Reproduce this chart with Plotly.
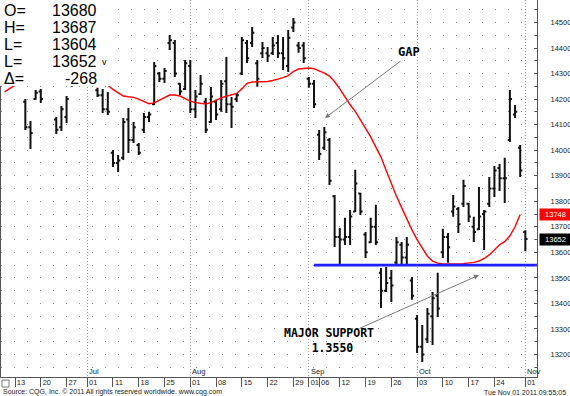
import pandas as pd
import plotly.graph_objects as go

# ---------------- data ----------------
HOLIDAYS = ["2011-07-04", "2011-09-05"]
trade_days = [d.strftime("%Y-%m-%d") for d in pd.bdate_range("2011-06-09", "2011-11-01")
              if d.strftime("%Y-%m-%d") not in HOLIDAYS]

opens = [14400, 14350, 14300, 14400, 14190, 14090, 14200, 14230, 14280, 14360,
         14120, 14090, 14130, 14260, 14330, 14390, 14460, 14450, 14235, 14215,
         14160, 13990, 13950, 13970, 14120, 14040, 14020, 14080, 14130, 14180,
         14300, 14280, 14420, 14420, 14260, 14240, 14330, 14160, 14220, 14190,
         14110, 14190, 14160, 14270, 14180, 14200, 14300, 14420, 14420, 14340,
         14380, 14380, 14380, 14420, 14380, 14330, 14480, 14410, 14410, 14280,
         14260, 14060, 14010, 14040, 13820, 13660, 13650, 13660, 13760, 13830,
         13670, 13640, 13700, 13520, 13450, 13500, 13560, 13630, 13580, 13490,
         13340, 13230, 13260, 13350, 13430, 13600, 13660, 13760, 13770, 13790,
         13790, 13700, 13690, 13750, 13790, 13850, 13930, 13890, 14040, 14140,
         14010, 13680]
highs = [14420, 14360, 14420, 14450, 14200, 14114, 14236, 14240, 14380, 14400,
         14130, 14173, 14212, 14340, 14400, 14470, 14500, 14480, 14244, 14240,
         14228, 14001, 13981, 14126, 14165, 14110, 14028, 14146, 14150, 14345,
         14306, 14322, 14451, 14431, 14263, 14353, 14353, 14236, 14294, 14204,
         14247, 14197, 14275, 14365, 14208, 14224, 14443, 14431, 14482, 14353,
         14424, 14404, 14443, 14451, 14443, 14471, 14518, 14424, 14424, 14287,
         14275, 14079, 14091, 14048, 13825, 13695, 13735, 13766, 13923, 13833,
         13680, 13735, 13786, 13539, 13543, 13531, 13660, 13641, 13660, 13504,
         13355, 13316, 13382, 13445, 13520, 13692, 13676, 13825, 13778, 13884,
         13794, 13739, 13856, 13766, 13895, 13938, 13946, 13970, 14236, 14177,
         14020, 13687]
lows = [14330, 14270, 14290, 14370, 14079, 14005, 14197, 14185, 14270, 14300,
        14063, 14075, 14106, 14248, 14310, 14380, 14410, 14380, 14208, 14146,
        14138, 13934, 13915, 13962, 13989, 14028, 13981, 14067, 14110, 14177,
        14267, 14263, 14392, 14287, 14216, 14236, 14146, 14126, 14216, 14067,
        14107, 14118, 14150, 14146, 14087, 14189, 14294, 14341, 14404, 14248,
        14361, 14345, 14373, 14361, 14314, 14306, 14463, 14381, 14341, 14244,
        14165, 13962, 14001, 13864, 13621, 13554, 13629, 13629, 13758, 13746,
        13578, 13637, 13629, 13382, 13445, 13406, 13551, 13551, 13551, 13414,
        13206, 13171, 13245, 13237, 13347, 13578, 13559, 13739, 13676, 13778,
        13719, 13641, 13688, 13609, 13778, 13817, 13840, 13793, 14032, 14126,
        13895, 13604]
closes = [14350, 14290, 14400, 14410, 14090, 14067, 14225, 14200, 14360, 14320,
          14080, 14160, 14200, 14330, 14390, 14460, 14450, 14400, 14215, 14160,
          14150, 13950, 13960, 14110, 14040, 14090, 13990, 14130, 14140, 14330,
          14280, 14310, 14430, 14300, 14230, 14340, 14160, 14210, 14260, 14080,
          14210, 14140, 14260, 14180, 14170, 14215, 14430, 14360, 14460, 14280,
          14400, 14370, 14410, 14380, 14360, 14440, 14500, 14400, 14360, 14260,
          14180, 13985, 14070, 13880, 13660, 13650, 13660, 13740, 13870, 13760,
          13600, 13700, 13640, 13450, 13480, 13470, 13640, 13580, 13630, 13430,
          13230, 13200, 13360, 13420, 13380, 13660, 13620, 13780, 13710, 13860,
          13740, 13680, 13740, 13760, 13850, 13920, 13890, 13890, 14200, 14150,
          13920, 13652]

moving_avg = [14228, 14242,
              14256, 14268, 14278, 14285, 14290, 14292, 14294, 14295, 14294, 14292,
              14290, 14288, 14286, 14284, 14282, 14278, 14272, 14264, 14254,
              14238, 14224, 14212, 14209, 14207, 14200, 14190, 14182, 14185, 14196,
              14207, 14216, 14216, 14212, 14202, 14192, 14186, 14182, 14181, 14186,
              14196, 14205, 14211, 14216, 14222, 14240, 14262, 14267, 14267, 14267,
              14269, 14273, 14278, 14284, 14292, 14308, 14318, 14321, 14322, 14319,
              14312, 14302, 14290, 14268, 14240, 14208, 14178, 14152, 14120, 14085,
              14052, 14012, 13973, 13920, 13868, 13820, 13775, 13730, 13688, 13650,
              13615, 13585, 13566, 13558, 13555, 13554, 13554, 13555, 13556, 13558,
              13561, 13566, 13576, 13590, 13612, 13630, 13642, 13665, 13700, 13748]

SUPPORT_LEVEL = 13550
SUPPORT_FROM = "2011-09-02"

tick_dates = ["2011-06-13", "2011-06-20", "2011-06-27", "2011-07-01", "2011-07-11",
              "2011-07-18", "2011-07-25", "2011-08-01", "2011-08-08", "2011-08-15",
              "2011-08-22", "2011-08-29", "2011-09-01", "2011-09-06", "2011-09-12",
              "2011-09-19", "2011-09-26", "2011-10-03", "2011-10-10", "2011-10-17",
              "2011-10-24", "2011-11-01"]
tick_text = ["13", "20", "27", "01", "11", "18", "25", "01", "08", "15", "22", "29",
             "01", "06", "12", "19", "26", "03", "10", "17", "24", "01"]
month_dates = ["2011-07-01", "2011-08-01", "2011-09-01", "2011-10-03", "2011-11-01"]
month_names = ["Jul", "Aug", "Sep", "Oct", "Nov"]
y_ticks = list(range(13200, 14501, 100))

info_labels = ["O=", "H=", "L=", "L=", "Δ="]

# ---------------- figure ----------------
pos = {d: i for i, d in enumerate(trade_days)}
x = list(range(len(trade_days)))
X_RANGE = [-0.72, 103.26]
Y_RANGE = [13112, 14588]

fig = go.Figure()

fig.add_trace(go.Ohlc(
    x=x, open=opens, high=highs, low=lows, close=closes,
    increasing=dict(line=dict(color="#111111", width=2)),
    decreasing=dict(line=dict(color="#111111", width=2)),
    tickwidth=0.42, hoverinfo="skip", showlegend=False,
))

fig.add_trace(go.Scatter(
    x=x[:len(moving_avg)], y=moving_avg, mode="lines",
    line=dict(color="#ff0000", width=1.4), hoverinfo="skip", showlegend=False,
))

fig.add_trace(go.Scatter(
    x=[pos[SUPPORT_FROM], X_RANGE[1]], y=[SUPPORT_LEVEL, SUPPORT_LEVEL], mode="lines",
    line=dict(color="#1f1fff", width=2.6), hoverinfo="skip", showlegend=False,
))

font_family = "Liberation Sans, Arial, sans-serif"
mono = "DejaVu Sans Mono, monospace"

fig.update_layout(
    width=570, height=396,
    margin=dict(l=1, r=33, t=0, b=19),
    paper_bgcolor="white", plot_bgcolor="white",
    font=dict(family=font_family, size=8, color="#222222"),
    xaxis=dict(
        range=X_RANGE, rangeslider=dict(visible=False),
        tickmode="array", tickvals=[pos[d] for d in tick_dates], ticktext=tick_text,
        tickangle=0,
        ticks="outside", ticklen=9, tickcolor="#555555", tickwidth=1,
        ticklabelshift=6, ticklabelstandoff=-11,
        tickfont=dict(size=7.5, color="#222222"),
        showgrid=False, zeroline=False,
        showline=True, linecolor="#555555", linewidth=1,
        minor=dict(tickmode="array", tickvals=[pos[d] for d in month_dates],
                   showgrid=True, gridcolor="#9a9a9a", griddash="1px,2px", gridwidth=1,
                   ticks=""),
    ),
    yaxis=dict(
        range=Y_RANGE, side="right",
        tickmode="array", tickvals=y_ticks, ticktext=[str(v) for v in y_ticks],
        ticks="inside", ticklen=3, tickcolor="#555555",
        ticklabelstandoff=11,
        tickfont=dict(size=7.5, color="#222222"),
        showgrid=True, gridcolor="#8c8c8c", griddash="1px,12px", gridwidth=1,
        minor=dict(dtick=50, showgrid=True, gridcolor="#8c8c8c", griddash="1px,12px",
                   ticks="inside", ticklen=2, tickcolor="#555555"),
        zeroline=False, showline=True, linecolor="#555555", linewidth=1, mirror=True,
    ),
)

# white info box covering the top-left corner
fig.add_shape(type="rect", xref="paper", yref="paper", xsizemode="pixel", ysizemode="pixel",
              xanchor=0, yanchor=1, x0=-1, x1=108, y0=0, y1=-86,
              fillcolor="white", line=dict(width=0), layer="above")
# small square at bottom-left of the date scale
fig.add_shape(type="rect", xref="paper", yref="paper", xsizemode="pixel", ysizemode="pixel",
              xanchor=0, yanchor=0, x0=1, x1=8, y0=-3, y1=-10,
              fillcolor="white", line=dict(width=1, color="#777777"), layer="above")

ann = []
info_values = [str(opens[-1]), str(highs[-1]), str(lows[-1]), str(closes[-1]),
               str(closes[-1] - closes[-2])]
for i, (lab, val) in enumerate(zip(info_labels, info_values)):
    yshift = -10 - 17.2 * i
    ann.append(dict(xref="paper", yref="paper", x=0, y=1, xanchor="left", yanchor="middle",
                    xshift=1, yshift=yshift, text=lab, showarrow=False,
                    font=dict(family=font_family, size=16, color="#000000")))
    ann.append(dict(xref="paper", yref="paper", x=0, y=1, xanchor="right", yanchor="middle",
                    xshift=98, yshift=yshift, text=val, showarrow=False,
                    font=dict(family=font_family, size=16, color="#000000")))
ann.append(dict(xref="paper", yref="paper", x=0, y=1, xanchor="left", yanchor="middle",
                xshift=99, yshift=-62, text="v", showarrow=False,
                font=dict(family=font_family, size=9, color="#000000")))

# month names
for d, m in zip(month_dates, month_names):
    ann.append(dict(xref="x", yref="paper", x=pos[d], y=0, xanchor="left", yanchor="bottom",
                    xshift=0, yshift=-1, text=m, showarrow=False,
                    font=dict(family=font_family, size=7.5, color="#222222")))

# last-value flags on the price scale
ann.append(dict(xref="paper", yref="y", x=1, y=moving_avg[-1], xanchor="left", yanchor="middle",
                xshift=2, text=str(moving_avg[-1]), showarrow=False, bgcolor="#ff0000",
                borderpad=1, width=29, font=dict(family=font_family, size=7.5, color="white")))
ann.append(dict(xref="paper", yref="y", x=1, y=closes[-1], xanchor="left", yanchor="middle",
                xshift=2, text=str(closes[-1]), showarrow=False, bgcolor="#000000",
                borderpad=1, width=29, font=dict(family=font_family, size=7.5, color="white")))

# GAP callout
ann.append(dict(xref="x", yref="y", x=62.14, y=14126, ax=77, ay=-58, axref="pixel", ayref="pixel",
                text="", showarrow=True, arrowhead=2, arrowsize=1, arrowwidth=1,
                arrowcolor="#777777"))
ann.append(dict(xref="x", yref="y", x=78.5, y=14385, text="<b>GAP</b>", showarrow=False,
                font=dict(family=mono, size=12, color="#000000")))

# Major support callout
ann.append(dict(xref="x", yref="y", x=92.0, y=13511, ax=-121, ay=54, axref="pixel", ayref="pixel",
                text="", showarrow=True, arrowhead=2, arrowsize=1, arrowwidth=1,
                arrowcolor="#777777"))
ann.append(dict(xref="x", yref="y", x=62.9, y=13254,
                text="<b>MAJOR SUPPORT</b><br><b>&nbsp;1.3550</b>", showarrow=False,
                align="center", font=dict(family=mono, size=11.5, color="#000000")))

# footer
ann.append(dict(xref="paper", yref="paper", x=0, y=0, xanchor="left", yanchor="middle",
                xshift=0, yshift=-15, text="Source: CQG, Inc. © 2011 All rights reserved worldwide. www.cqg.com",
                showarrow=False, font=dict(family=font_family, size=7, color="#222222")))
ann.append(dict(xref="paper", yref="paper", x=1, y=0, xanchor="right", yanchor="middle",
                xshift=31, yshift=-15, text="Tue Nov 01 2011 09:55:05",
                showarrow=False, font=dict(family=font_family, size=7, color="#222222")))

fig.update_layout(annotations=ann)

fig.write_html("out.html", config={"displayModeBar": False},
               post_script="document.body.style.margin='0';document.body.style.overflow='hidden';")
